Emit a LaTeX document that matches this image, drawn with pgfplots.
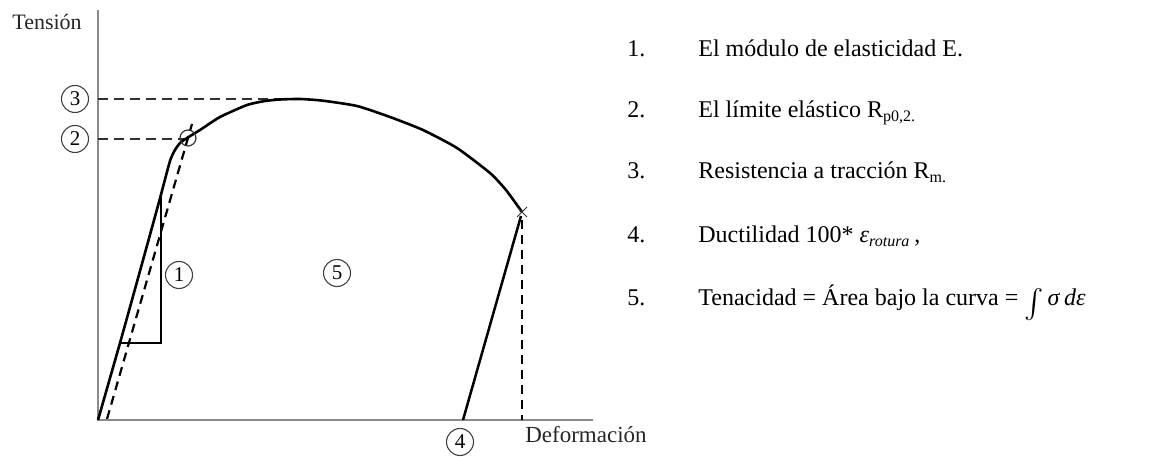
\documentclass[border=0pt]{standalone}
\usepackage{fontspec}
\setmainfont{Liberation Serif}
\usepackage{pgfplots}
\pgfplotsset{compat=1.18}
\definecolor{axgray}{HTML}{8A8A8A}
\definecolor{dashgray}{HTML}{303030}
\tikzset{circ/.style={circle, draw=black!75, line width=0.55pt, minimum size=13.5pt, inner sep=0pt, font=\fontsize{10.5}{10.5}\selectfont}}
\begin{document}
\begin{tikzpicture}
\begin{axis}[hide axis, x=0.5pt, y=0.5pt, y dir=reverse,
  xmin=0, xmax=1161, ymin=0, ymax=453, clip=false]
% bounding box
\addplot[draw=none] coordinates {(0,0) (1161,453)};
% axes
\addplot[axgray, line width=0.8pt] coordinates {(98,10) (98,420) (593,420)};
% dashed guides
\addplot[dashgray, line width=1.2pt, dash pattern=on 5pt off 3pt] coordinates {(98,99) (300,99)};
\addplot[dashgray, line width=1.2pt, dash pattern=on 5pt off 3pt] coordinates {(98,139) (184,139)};
\addplot[black, line width=1.1pt, dash pattern=on 4.5pt off 3pt] coordinates {(107,419) (192,124)};
\addplot[black, line width=1.1pt, dash pattern=on 4.5pt off 3pt] coordinates {(522,220) (522,420)};
% triangle
\addplot[black, line width=0.9pt] coordinates {(120,343) (161,343) (161,194)};
% main curve
\addplot[black, line width=1.3pt, smooth, tension=0.35] coordinates {
(98,420) (120,343) (140,271) (159,202) (170,161) (175,150) (180,143) (187,138)
(200,130) (220,117) (247,105) (265,101) (280,99.5) (300,99) (323,100.7)
(357,106) (390,117) (423,130) (457,148) (490,173) (506,190) (522,212)};
% unloading
\addplot[black, line width=1.25pt] coordinates {(521,216) (463,420)};
% fracture mark and yield circle
\addplot[only marks, mark=x, mark size=3.5pt, mark options={line width=0.5pt, black!80}] coordinates {(522,212)};
\addplot[only marks, mark=o, mark size=4pt, mark options={line width=0.6pt, black!80}] coordinates {(188,138)};
% circled labels
\node[circ] at (axis cs:75,99) {3};
\node[circ] at (axis cs:75,139) {2};
\node[circ] at (axis cs:179,275) {1};
\node[circ] at (axis cs:337,273) {5};
\node[circ] at (axis cs:460,442) {4};
% axis labels
\node[font=\fontsize{11}{11}\selectfont, text=black!85] at (axis cs:47,22) {Tensión};
\node[font=\fontsize{11.5}{11.5}\selectfont, text=black!85] at (axis cs:586,435) {Deformación};
% list
\begin{scope}[every node/.style={anchor=base west, inner sep=0pt, font=\fontsize{12}{12}\selectfont}]
\node at (axis cs:627,57) {1.};
\node at (axis cs:698,57) {El módulo de elasticidad E.};
\node at (axis cs:627,118) {2.};
\node at (axis cs:698,118) {El límite elástico R\textsubscript{p0,2.}};
\node at (axis cs:627,179) {3.};
\node at (axis cs:698,179) {Resistencia a tracción R\textsubscript{m.}};
\node at (axis cs:627,243) {4.};
\node at (axis cs:698,243) {Ductilidad 100* \textit{ε}\textsubscript{\textit{rotura}}\,,};
\node at (axis cs:627,306) {5.};
\node at (axis cs:698,306) {Tenacidad = Área bajo la curva = \raisebox{-0.3em}{\scalebox{1.45}{$\int$}}\,\textit{σ}\,\textit{dε}};
\end{scope}
\end{axis}
\end{tikzpicture}
\end{document}
